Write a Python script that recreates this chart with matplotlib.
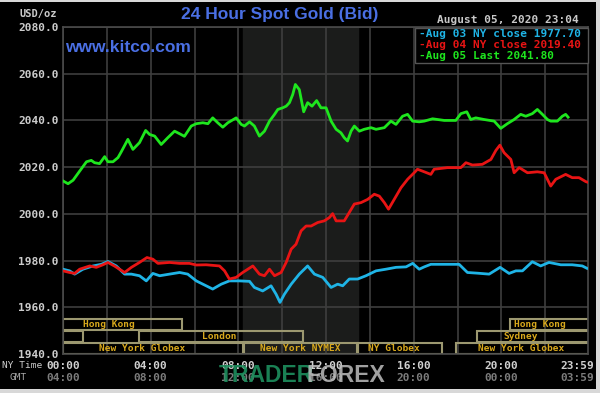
import matplotlib
matplotlib.use("Agg")
import matplotlib.pyplot as plt
from matplotlib.patches import Rectangle

# ---- data (NY time in hours, price in USD/oz) ----
aug03 = [(0.0, 1976.3), (0.3, 1975.6), (0.53, 1974.2), (0.91, 1976.3), (1.37, 1977.7), (1.75, 1978.4),
         (2.05, 1979.6), (2.43, 1977.7), (2.81, 1974.2), (3.12, 1974.2), (3.49, 1973.5), (3.8, 1971.3),
         (4.1, 1974.5), (4.41, 1973.5), (4.86, 1974.2), (5.32, 1974.9), (5.69, 1974.2), (6.08, 1971.3),
         (6.38, 1969.9), (6.83, 1967.8), (7.22, 1969.9), (7.59, 1971.3), (8.05, 1971.3), (8.51, 1971.1),
         (8.73, 1968.5), (9.11, 1967.0), (9.49, 1969.2), (9.72, 1965.6), (9.9, 1962.1), (10.1, 1965.6),
         (10.41, 1969.9), (10.78, 1974.2), (11.16, 1977.7), (11.47, 1974.2), (11.85, 1972.8), (12.23, 1968.5),
         (12.53, 1969.9), (12.76, 1969.2), (13.06, 1972.1), (13.44, 1972.1), (13.82, 1973.5), (14.28, 1975.6),
         (14.73, 1976.3), (15.19, 1977.1), (15.65, 1977.3), (15.95, 1978.8), (16.25, 1976.3), (16.48, 1977.3),
         (16.78, 1978.4), (17.39, 1978.4), (18.07, 1978.4), (18.45, 1974.9), (18.91, 1974.6), (19.44, 1974.2),
         (19.94, 1977.1), (20.35, 1974.5), (20.66, 1975.6), (20.96, 1975.6), (21.41, 1979.5), (21.79, 1977.7),
         (22.17, 1979.2), (22.71, 1978.2), (23.23, 1978.2), (23.69, 1977.7), (23.9, 1976.7)]

aug04 = [(0.0, 1975.6), (0.3, 1974.9), (0.53, 1974.5), (0.76, 1976.3), (1.22, 1977.7), (1.52, 1977.1),
         (1.82, 1978.2), (2.05, 1979.2), (2.36, 1977.6), (2.81, 1974.9), (3.12, 1977.1), (3.49, 1979.2),
         (3.83, 1981.3), (4.1, 1980.6), (4.33, 1978.8), (4.86, 1979.2), (5.32, 1978.8), (5.77, 1978.8),
         (6.08, 1978.1), (6.53, 1978.2), (7.14, 1977.7), (7.37, 1975.6), (7.59, 1972.1), (7.9, 1972.8),
         (8.2, 1974.9), (8.66, 1977.7), (8.96, 1974.2), (9.19, 1973.5), (9.42, 1976.3), (9.65, 1973.5),
         (9.95, 1974.9), (10.18, 1979.2), (10.41, 1984.9), (10.63, 1987.0), (10.86, 1992.7), (11.09, 1994.8),
         (11.32, 1994.8), (11.62, 1996.3), (11.92, 1997.0), (12.15, 1998.4), (12.3, 2000.1), (12.46, 1997.0),
         (12.83, 1997.0), (13.06, 2000.6), (13.29, 2004.2), (13.59, 2004.8), (13.9, 2006.2), (14.2, 2008.4),
         (14.43, 2007.6), (14.66, 2004.8), (14.85, 2002.0), (15.11, 2006.2), (15.42, 2011.2), (15.72, 2014.8),
         (16.02, 2017.6), (16.17, 2019.1), (16.4, 2018.3), (16.78, 2016.9), (16.93, 2019.1), (17.54, 2019.8),
         (18.15, 2019.8), (18.38, 2021.9), (18.68, 2020.9), (19.13, 2021.2), (19.52, 2023.3), (19.75, 2027.2),
         (19.93, 2029.4), (20.12, 2026.2), (20.43, 2023.3), (20.58, 2017.6), (20.81, 2019.8), (21.19, 2017.6),
         (21.64, 2018.0), (21.95, 2017.6), (22.25, 2011.9), (22.48, 2014.8), (22.93, 2016.9), (23.23, 2015.5),
         (23.54, 2015.5), (23.85, 2013.8), (23.98, 2013.4)]

aug05 = [(0.0, 2014.1), (0.23, 2012.9), (0.46, 2014.4), (0.76, 2018.3), (1.07, 2022.3), (1.29, 2022.9),
         (1.44, 2021.9), (1.67, 2021.5), (1.9, 2024.5), (2.05, 2022.3), (2.28, 2022.3), (2.51, 2024.1),
         (2.66, 2026.6), (2.96, 2031.9), (3.19, 2027.6), (3.49, 2030.5), (3.77, 2035.7), (3.95, 2034.0),
         (4.18, 2033.3), (4.48, 2029.7), (4.78, 2032.6), (5.09, 2035.4), (5.32, 2034.3), (5.54, 2033.2),
         (5.85, 2037.6), (6.08, 2038.6), (6.38, 2039.0), (6.61, 2038.6), (6.83, 2041.1), (7.06, 2039.0),
         (7.29, 2037.1), (7.52, 2039.0), (7.9, 2041.1), (8.13, 2038.3), (8.28, 2037.6), (8.51, 2039.4),
         (8.73, 2037.6), (8.96, 2033.3), (9.19, 2035.4), (9.42, 2039.7), (9.65, 2042.6), (9.8, 2044.7),
         (10.02, 2045.4), (10.18, 2046.1), (10.33, 2047.6), (10.48, 2051.1), (10.6, 2055.4), (10.78, 2053.2),
         (10.98, 2043.7), (11.16, 2047.6), (11.36, 2046.1), (11.57, 2048.5), (11.77, 2045.4), (12.0, 2045.4),
         (12.23, 2039.7), (12.46, 2036.2), (12.68, 2034.7), (12.83, 2032.6), (12.98, 2031.2), (13.14, 2035.4),
         (13.29, 2037.6), (13.52, 2035.4), (13.74, 2036.2), (14.05, 2036.9), (14.28, 2036.2), (14.66, 2036.9),
         (14.96, 2039.7), (15.19, 2038.3), (15.49, 2041.8), (15.72, 2042.6), (15.95, 2039.7), (16.25, 2039.4),
         (16.48, 2039.7), (16.86, 2040.7), (17.39, 2040.0), (17.92, 2040.0), (18.15, 2042.9), (18.42, 2043.7),
         (18.6, 2040.4), (18.83, 2041.1), (19.21, 2040.4), (19.67, 2039.7), (19.97, 2036.6), (20.27, 2038.6),
         (20.58, 2040.4), (20.88, 2042.6), (21.11, 2041.8), (21.41, 2042.9), (21.64, 2044.7), (21.87, 2042.6),
         (22.1, 2040.4), (22.25, 2039.7), (22.55, 2039.7), (22.78, 2041.8), (22.93, 2042.6), (23.04, 2041.4)]

legend_labels = ["-Aug 03 NY close 1977.70", "-Aug 04 NY close 2019.40", "-Aug 05 Last 2041.80"]
y_ticks = [1940, 1960, 1980, 2000, 2020, 2040, 2060, 2080]
ny_times = ["00:00", "04:00", "08:00", "12:00", "16:00", "20:00", "23:59"]
gmt_times = ["04:00", "08:00", "12:00", "16:00", "20:00", "00:00", "03:59"]
time_hours = [0, 4, 8, 12, 16, 20, 24]

# trading sessions: (row, start, end, label, label_x)
sessions = [(0, 0.0, 5.44, "Hong Kong", 2.1), (0, 20.4, 23.98, "Hong Kong", 21.76),
            (1, 0.0, 0.91, "", 0), (1, 3.45, 10.93, "London", 7.12), (1, 18.9, 23.98, "Sydney", 20.9),
            (2, 0.0, 8.2, "New York Globex", 3.63), (2, 8.25, 13.42, "New York NYMEX", 10.84),
            (2, 13.47, 17.28, "NY Globex", 15.1), (2, 17.95, 23.98, "New York Globex", 20.9)]
nymex_span = (8.2, 13.48)

colors = ["#1fb4e6", "#e81414", "#1ee61e"]
mono = "DejaVu Sans Mono"
W, H = 600, 393

fig = plt.figure(figsize=(6, 3.93), dpi=100, facecolor="black")
ax = fig.add_axes([63 / W, 1 - 354 / H, 525 / W, 327 / H], facecolor="black")

ax.axvspan(*nymex_span, color="#1b1c1b", zorder=0)
for i, series in enumerate([aug03, aug04, aug05]):
    xs = [p[0] for p in series]
    ys = [p[1] for p in series]
    ax.plot(xs, ys, color=colors[i], lw=2.0, zorder=3)

# session boxes
row_bottom = [1950.4, 1945.2, 1940.1]
row_h = 4.6
for row, s, e, lab, lx in sessions:
    ax.add_patch(Rectangle((s, row_bottom[row]), e - s, row_h, fill=False,
                           edgecolor="#9c9870", lw=1.5, zorder=2))
    if lab:
        ax.text(lx, row_bottom[row] + row_h / 2, lab, color="#d8a81c", fontsize=6.8,
                family=mono, weight="bold", ha="center", va="center", zorder=4)

ax.set_xlim(0, 23.95)
ax.set_ylim(1940, 2080)
ax.set_xticks(range(0, 24, 2))
ax.set_yticks(y_ticks)
ax.set_yticklabels(["%.1f" % v for v in y_ticks], family=mono, weight="bold",
                   fontsize=8, color="#cccccc")
ax.tick_params(axis="both", length=0, pad=3)
ax.tick_params(axis="x", labelbottom=False)
ax.grid(True, color="#3e3e3e", lw=1.2, zorder=1)
ax.set_axisbelow(True)
for sp in ax.spines.values():
    sp.set_color("#4a4a4a")
    sp.set_linewidth(1.2)

# x labels in two rows
tr = ax.get_xaxis_transform()
for h, ny, g in zip(time_hours, ny_times, gmt_times):
    ha = "center"
    xx = h
    if h == 24:
        ha, xx = "right", 24.25
    ax.text(xx, -0.036, ny, transform=tr, ha=ha, va="center", family=mono, weight="bold",
            fontsize=8, color="#d0d0d0", clip_on=False)
    ax.text(xx, -0.074, g, transform=tr, ha=ha, va="center", family=mono, weight="bold",
            fontsize=8, color="#7c7c7c", clip_on=False)
fig.text(22 / W, 1 - 366 / H, "NY Time", family=mono, fontsize=6.8, color="#cccccc",
         ha="center", va="center")
fig.text(18 / W, 1 - 378 / H, "GMT", family=mono, fontsize=6.8, color="#aaaaaa",
         ha="center", va="center")

# header texts
fig.text(38 / W, 1 - 14 / H, "USD/oz", family=mono, weight="bold", fontsize=7.5,
         color="#cccccc", ha="center", va="center")
fig.text(280 / W, 1 - 15 / H, "24 Hour Spot Gold (Bid)", family="Liberation Sans",
         weight="bold", fontsize=12.5, color="#4a6fe3", ha="center", va="center")
fig.text(508 / W, 1 - 20 / H, "August 05, 2020 23:04", family=mono, weight="bold",
         fontsize=8, color="#c8c8c8", ha="center", va="center")
ax.text(0.004, 0.937, "www.kitco.com", transform=ax.transAxes, family="Liberation Sans",
        weight="bold", fontsize=12.5, color="#4a6fe3", ha="left", va="center", zorder=5)

# legend box
fig.patches.append(Rectangle((415 / W, 1 - 63 / H), 173 / W, 35 / H, transform=fig.transFigure,
                             facecolor="black", edgecolor="#555555", lw=1.0, zorder=5))
for i, lab in enumerate(legend_labels):
    fig.text(419 / W, 1 - (34 + 11 * i) / H, lab, family=mono, weight="bold", fontsize=8,
             color=colors[i], ha="left", va="center", zorder=6)

# watermark
fig.text(219 / W, 1 - 376 / H, "TRADER", family="Liberation Sans", weight="bold",
         fontsize=16.5, color="#1e8f5e", ha="left", va="center", alpha=0.9)
fig.text(307 / W, 1 - 376 / H, "FOREX", family="Liberation Sans", weight="bold",
         fontsize=16.5, color="#bdbdbd", ha="left", va="center", alpha=0.85)

# light outer frame
for rect in [(0, 1 - 2 / H, 1, 2 / H), (0, 0, 1, 4 / H), (1 - 4 / W, 0, 4 / W, 1)]:
    fig.patches.append(Rectangle(rect[:2], rect[2], rect[3], transform=fig.transFigure,
                                 facecolor="#d8d8d8", edgecolor="none", zorder=7))

fig.savefig("out.png", dpi=100, facecolor="black")
